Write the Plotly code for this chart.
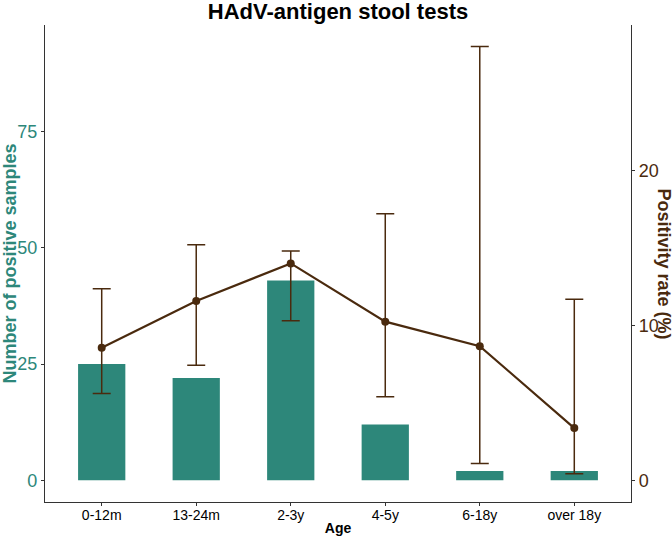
import plotly.graph_objects as go

ages = ["0-12m", "13-24m", "2-3y", "4-5y", "6-18y", "over 18y"]
positives = [25, 22, 43, 12, 2, 2]
rate = [8.56, 11.57, 14.0, 10.24, 8.66, 3.37]
rate_upper = [12.37, 15.2, 14.8, 17.2, 28.0, 11.68]
rate_lower = [5.61, 7.42, 10.3, 5.4, 1.08, 0.43]

teal = "#2D877A"
brown = "#4A2A0E"
font = "Liberation Sans, Arial, sans-serif"

factor = 10 / 3
left_range = [-4.67, 97.97]
right_range = [left_range[0] / factor, left_range[1] / factor]

err_plus = [u - r for u, r in zip(rate_upper, rate)]
err_minus = [r - l for r, l in zip(rate, rate_lower)]

fig = go.Figure()
fig.add_trace(go.Bar(
    x=ages, y=positives, marker=dict(color=teal, line=dict(width=0)),
    width=0.5, yaxis="y", showlegend=False,
))
fig.add_trace(go.Scatter(
    x=ages, y=rate, yaxis="y2", mode="lines+markers",
    line=dict(color=brown, width=2.2),
    marker=dict(color=brown, size=8),
    error_y=dict(type="data", array=err_plus, arrayminus=err_minus,
                 color=brown, thickness=1.5, width=9, symmetric=False),
    showlegend=False,
))

fig.update_layout(
    width=672, height=536,
    margin=dict(l=45, r=41, t=25, b=34, autoexpand=False),
    plot_bgcolor="white", paper_bgcolor="white",
    font=dict(family=font, color="black"),
    title=dict(text="<b>HAdV-antigen stool tests</b>", x=0.503, xanchor="center",
               y=0.979, yanchor="middle", font=dict(size=22, color="black", family=font)),
    xaxis=dict(
        type="category", range=[-0.6, 5.6], automargin=False,
        showline=True, linecolor="#333333", linewidth=1.2,
        ticks="outside", ticklen=3, tickcolor="#333333",
        tickfont=dict(size=14, color="black"), ticklabelstandoff=-3,
        title=dict(text="<b>Age</b>", font=dict(size=14, color="black"), standoff=3),
        showgrid=False, zeroline=False,
    ),
    yaxis=dict(
        range=left_range, tickvals=[0, 25, 50, 75], automargin=False,
        showline=True, linecolor="#333333", linewidth=1.2,
        ticks="outside", ticklen=3, tickcolor="#333333",
        tickfont=dict(size=18, color=teal),
        title=dict(text="<b>Number of positive samples</b>", font=dict(size=18, color=teal), standoff=2),
        showgrid=False, zeroline=False,
    ),
    yaxis2=dict(
        range=right_range, tickvals=[0, 10, 20], overlaying="y", side="right", automargin=False,
        showline=True, linecolor="#333333", linewidth=1.2,
        ticks="outside", ticklen=3, tickcolor="#333333",
        tickfont=dict(size=18, color=brown),
        showgrid=False, zeroline=False,
    ),
    annotations=[dict(
        text="<b>Positivity rate (%)</b>", textangle=90,
        x=1.0, xref="paper", xanchor="center", xshift=33,
        y=0.5, yref="paper", yanchor="middle",
        showarrow=False, font=dict(size=18, color=brown, family=font),
    )],
)

fig.write_html("out.html", config={"displayModeBar": False},
               post_script="document.body.style.margin='0px';")
